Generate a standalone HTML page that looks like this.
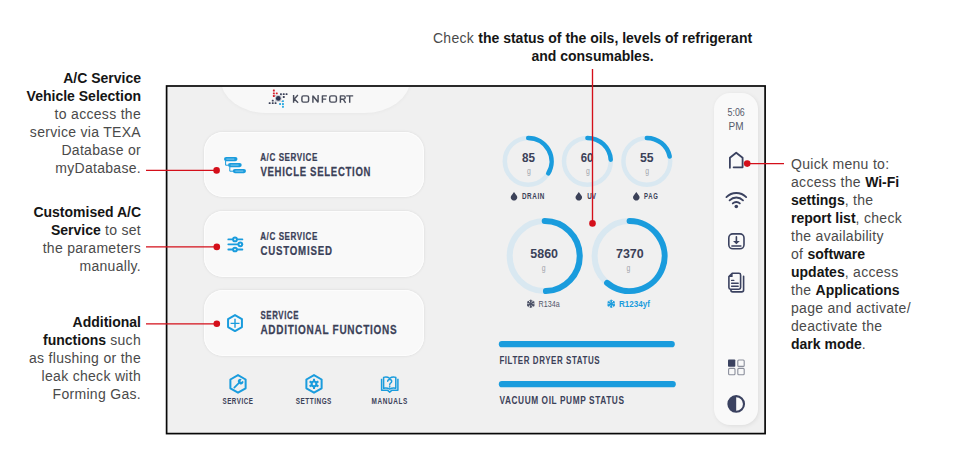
<!DOCTYPE html>
<html><head><meta charset="utf-8">
<style>
*{box-sizing:border-box;margin:0;padding:0}
html,body{width:955px;height:462px;overflow:hidden;background:#fff}
body{position:relative;font-family:"Liberation Sans",sans-serif}
.abs{position:absolute}
.ann{position:absolute;font-size:14px;line-height:18px;white-space:nowrap;color:#4a4a4a;letter-spacing:0.3px}
.ann b{color:#151515;letter-spacing:0;font-weight:bold}
.r{text-align:right}
.red{position:absolute;background:#d5101a}
.dot{position:absolute;width:7px;height:7px;border-radius:50%;background:#d5101a}
#frame{position:absolute;left:166px;top:85px;width:600px;height:349px;background:#f0f0f0}
.cond{display:inline-block;transform-origin:0 50%;white-space:nowrap}
.card{position:absolute;left:204px;width:220px;height:65px;border-radius:19px;background:#f9f9f9;box-shadow:0 0 3px rgba(0,0,0,0.10),inset 0 0 0 1px #fdfdfd}
.ui{font-family:"Liberation Sans",sans-serif;font-weight:bold;color:#3b4158;white-space:nowrap;position:absolute}
</style></head><body>

<!-- Left annotations -->
<div class="ann r" style="right:814px;top:69px">
<b>A/C Service</b><br><b>Vehicle Selection</b><br>to access the<br>service via TEXA<br>Database or<br>myDatabase.
</div>
<div class="ann r" style="right:814px;top:203px">
<b>Customised A/C</b><br><b>Service</b> to set<br>the parameters<br>manually.
</div>
<div class="ann r" style="right:814px;top:313px">
<b>Additional</b><br><b>functions</b> such<br>as flushing or the<br>leak check with<br>Forming Gas.
</div>
<!-- Top annotation -->
<div class="ann" style="left:432px;top:29px;width:321px;text-align:center">
Check <b>the status of the oils, levels of refrigerant</b><br><b>and consumables.</b>
</div>
<!-- Right annotation -->
<div class="ann" style="left:791px;top:155px">
Quick menu to:<br>access the <b>Wi-Fi</b><br><b>settings</b>, the<br><b>report list</b>, check<br>the availability<br>of <b>software</b><br><b>updates</b>, access<br>the <b>Applications</b><br>page and activate/<br>deactivate the<br><b>dark mode</b>.
</div>

<div id="frame"></div>

<!-- top tab -->
<div class="abs" style="left:221.3px;top:79px;width:188.8px;height:34.2px;border-radius:0 0 45.7px 45.7px / 0 0 33.2px 33.2px;background:#f8f8f8;box-shadow:0 0 4px rgba(0,0,0,0.05);clip-path:inset(8px -6px -6px -6px)"></div>

<!-- cards -->
<div class="card" style="top:132px"></div>
<div class="card" style="top:211px;height:66px"></div>
<div class="card" style="top:290px;height:65.5px"></div>

<!-- sidebar -->
<div class="abs" style="left:714px;top:93px;width:44px;height:332px;border-radius:16px;background:#f9f9f9;box-shadow:1px 1px 4px rgba(0,0,0,0.08)"></div>

<svg class="abs" style="left:0;top:0" width="955" height="462" viewBox="0 0 955 462" font-family="Liberation Sans, sans-serif">
<g fill="#3b4158" font-weight="bold" stroke="#3b4158" stroke-width="0.25">
<text transform="translate(260.2 161.3) scale(0.697 1)" font-size="11.6" textLength="82.10" lengthAdjust="spacing">A/C SERVICE</text>
<text transform="translate(260.4 175.5) scale(0.710 1)" font-size="13.5" textLength="155.02" lengthAdjust="spacing">VEHICLE SELECTION</text>
<text transform="translate(260.2 240.4) scale(0.697 1)" font-size="11.6" textLength="82.10" lengthAdjust="spacing">A/C SERVICE</text>
<text transform="translate(260.4 255) scale(0.718 1)" font-size="13.5" textLength="99.74" lengthAdjust="spacing">CUSTOMISED</text>
<text transform="translate(260.4 318.9) scale(0.678 1)" font-size="11.6" textLength="56.34" lengthAdjust="spacing">SERVICE</text>
<text transform="translate(260.4 333.5) scale(0.741 1)" font-size="13.5" textLength="183.89" lengthAdjust="spacing">ADDITIONAL FUNCTIONS</text>
</g>

<!-- gauges -->
<circle cx="528.2" cy="161.3" r="23.4" fill="none" stroke="#d9e8f1" stroke-width="4.5"/>
<path d="M528.20 137.90A23.4 23.4 0 0 1 548.25 173.36" fill="none" stroke="#1a9cdd" stroke-width="4.5" stroke-linecap="round"/>
<circle cx="587.4" cy="161.3" r="23.4" fill="none" stroke="#d9e8f1" stroke-width="4.5"/>
<path d="M587.40 137.90A23.4 23.4 0 0 1 610.74 159.67" fill="none" stroke="#1a9cdd" stroke-width="4.5" stroke-linecap="round"/>
<circle cx="646.8" cy="161.3" r="23.4" fill="none" stroke="#d9e8f1" stroke-width="4.5"/>
<path d="M646.80 137.90A23.4 23.4 0 0 1 669.69 156.44" fill="none" stroke="#1a9cdd" stroke-width="4.5" stroke-linecap="round"/>
<circle cx="544.7" cy="256.1" r="35" fill="none" stroke="#d9e8f1" stroke-width="6"/>
<path d="M544.70 221.10A35 35 0 0 1 545.92 291.08" fill="none" stroke="#1a9cdd" stroke-width="6" stroke-linecap="round"/>
<circle cx="629.6" cy="256.1" r="35" fill="none" stroke="#d9e8f1" stroke-width="6"/>
<path d="M629.60 221.10A35 35 0 1 1 607.10 282.91" fill="none" stroke="#1a9cdd" stroke-width="6" stroke-linecap="round"/>
<g fill="#3b4158" font-weight="bold">
<text x="522" y="161.7" font-size="13" textLength="13" lengthAdjust="spacingAndGlyphs">85</text>
<text x="580.8" y="161.7" font-size="13" textLength="12.6" lengthAdjust="spacingAndGlyphs">60</text>
<text x="640" y="161.7" font-size="13" textLength="13.6" lengthAdjust="spacingAndGlyphs">55</text>
<text x="530.3" y="258" font-size="13.5" textLength="27.7" lengthAdjust="spacingAndGlyphs">5860</text>
<text x="616" y="258" font-size="13.5" textLength="27.7" lengthAdjust="spacingAndGlyphs">7370</text>
<text transform="translate(522 198.9) scale(0.764 1)" font-size="8.3" textLength="29.20" lengthAdjust="spacing">DRAIN</text>
<text x="587.2" y="198.9" font-size="8.3" textLength="8.8" lengthAdjust="spacingAndGlyphs">UV</text>
<text transform="translate(644 198.9) scale(0.715 1)" font-size="8.3" textLength="19.31" lengthAdjust="spacing">PAG</text>
<text transform="translate(499.4 363.5) scale(0.688 1)" font-size="11.6" textLength="145.52" lengthAdjust="spacing">FILTER DRYER STATUS</text>
<text transform="translate(499.4 403.7) scale(0.715 1)" font-size="11.6" textLength="174.17" lengthAdjust="spacing">VACUUM OIL PUMP STATUS</text>
<text transform="translate(222.5 404) scale(0.673 1)" font-size="9.3" textLength="45.17" lengthAdjust="spacing">SERVICE</text>
<text transform="translate(295.8 404) scale(0.689 1)" font-size="9.3" textLength="51.67" lengthAdjust="spacing">SETTINGS</text>
<text transform="translate(371.6 404) scale(0.689 1)" font-size="9.3" textLength="51.65" lengthAdjust="spacing">MANUALS</text>
</g>
<g fill="#a0a3ab">
<text x="526.9" y="173.5" font-size="9.5" textLength="3.8" lengthAdjust="spacingAndGlyphs">g</text>
<text x="585.9" y="173.5" font-size="9.5" textLength="3.8" lengthAdjust="spacingAndGlyphs">g</text>
<text x="645.3" y="173.5" font-size="9.5" textLength="3.8" lengthAdjust="spacingAndGlyphs">g</text>
<text x="541.7" y="271" font-size="9.5" textLength="3.8" lengthAdjust="spacingAndGlyphs">g</text>
<text x="626.6" y="271" font-size="9.5" textLength="3.8" lengthAdjust="spacingAndGlyphs">g</text>
</g>
<text x="538.6" y="307.2" font-size="9.6" fill="#50566a" textLength="21" lengthAdjust="spacingAndGlyphs">R134a</text>
<text x="619" y="307.2" font-size="9.5" fill="#1a9cdd" font-weight="bold" textLength="31" lengthAdjust="spacingAndGlyphs">R1234yf</text>
<!-- bars -->
<rect x="498.8" y="341" width="176" height="6.3" rx="3.1" fill="#1a9cdd"/>
<rect x="498.8" y="381" width="177" height="6.3" rx="3.1" fill="#1a9cdd"/>
<!-- time -->
<g fill="#555b6b">
<text x="727.5" y="116.4" font-size="10.5" textLength="17.3" lengthAdjust="spacingAndGlyphs">5:06</text>
<text x="728.6" y="129.7" font-size="10.5" textLength="15" lengthAdjust="spacingAndGlyphs">PM</text>
</g>
<!-- konfort -->
<g fill="none" stroke="#4a4e5c" stroke-width="1.45" stroke-linejoin="round">
<path d="M293.6 95.1V102.8M297.9 95.1L294.3 98.95L298.1 102.8M294 98.95H295"/>
<rect x="301.9" y="95.85" width="6.7" height="6.25" rx="1.6"/>
<path d="M312.9 102.8V96.2Q312.9 95.85 313.3 96.2L317.7 101.8Q318.1 102.1 318.1 101.7V95.1"/>
<path d="M322.4 102.8V95.85H326.9M322.4 99.1H326.2"/>
<rect x="329.7" y="95.85" width="6.7" height="6.25" rx="1.6"/>
<path d="M340.4 102.8V95.85H343.6Q345.2 95.85 345.2 97.5Q345.2 99.15 343.6 99.15H340.4M343.2 99.15L345.6 102.8"/>
<path d="M346.2 95.85H353.2M349.7 95.85V102.8"/>
</g>

<!-- logo -->
<g>
<rect x="272.9" y="89.6" width="1.9" height="1.9" rx="0.5" fill="#d61f2b"/>
<rect x="272.9" y="92.4" width="1.9" height="1.9" rx="0.5" fill="#d61f2b"/>
<rect x="275.8" y="92.4" width="1.9" height="1.9" rx="0.5" fill="#d61f2b"/>
<rect x="272.9" y="95.1" width="1.9" height="1.9" rx="0.5" fill="#d61f2b"/>
<rect x="280.0" y="93.2" width="1.9" height="1.9" rx="0.5" fill="#3b4158"/>
<rect x="282.8" y="93.2" width="1.9" height="1.9" rx="0.5" fill="#3b4158"/>
<rect x="285.6" y="93.2" width="1.9" height="1.9" rx="0.5" fill="#3b4158"/>
<rect x="282.8" y="96.0" width="1.9" height="1.9" rx="0.5" fill="#3b4158"/>
<rect x="271.8" y="99.7" width="1.9" height="1.9" rx="0.5" fill="#3b4158"/>
<rect x="268.7" y="102.2" width="1.9" height="1.9" rx="0.5" fill="#3b4158"/>
<rect x="271.8" y="102.2" width="1.9" height="1.9" rx="0.5" fill="#3b4158"/>
<rect x="274.6" y="102.2" width="1.9" height="1.9" rx="0.5" fill="#3b4158"/>
<rect x="282.0" y="100.2" width="1.9" height="1.9" rx="0.5" fill="#29a8e0"/>
<rect x="279.1" y="103.0" width="1.9" height="1.9" rx="0.5" fill="#29a8e0"/>
<rect x="282.0" y="103.0" width="1.9" height="1.9" rx="0.5" fill="#29a8e0"/>
<rect x="282.0" y="105.8" width="1.9" height="1.9" rx="0.5" fill="#29a8e0"/>
<path d="M274.5 94.6L282 102.2M282 94.6L274.5 102.2" stroke="#9da1ad" stroke-width="0.7"/>
<circle cx="278.3" cy="98.4" r="3.4" fill="#c9ccd4"/>
<circle cx="278.3" cy="98.4" r="2.4" fill="#2e3550"/>
</g>
<!-- card1 icon -->
<g fill="none" stroke="#1a9cdd" stroke-width="1">
<path d="M225.6 161V165.2H228.5M229.8 167V171.2H233"/>
</g>
<g fill="#1a9cdd">
<rect x="224" y="157" width="13.5" height="4.2" rx="2.1"/>
<rect x="228" y="163" width="13.7" height="4.2" rx="2.1"/>
<rect x="232.8" y="169" width="13.2" height="4.2" rx="2.1"/>
</g>
<g fill="#e9f6fc" opacity="0.5">
<rect x="226.3" y="158.6" width="8" height="1" />
<rect x="230.6" y="164.6" width="8" height="1" />
<rect x="235.3" y="170.6" width="8" height="1" />
</g>
<!-- card2 sliders -->
<g stroke="#1a9cdd" stroke-width="1.8" stroke-linecap="round" fill="none">
<path d="M228.3 239.4H242.4M228.3 244.3H242.4M228.3 249.5H242.4"/>
</g>
<g stroke="#1a9cdd" stroke-width="2" fill="#fafafa">
<circle cx="235" cy="239.4" r="1.85"/>
<circle cx="240.3" cy="244.3" r="1.85"/>
<circle cx="235" cy="249.5" r="1.85"/>
</g>
<!-- card3 hex plus -->
<path d="M235.00 315.10 L241.93 319.10 L241.93 327.10 L235.00 331.10 L228.07 327.10 L228.07 319.10Z" fill="none" stroke="#1a9cdd" stroke-width="2" stroke-linejoin="round"/>
<path d="M230.6 323.4H239.5M235 318.8V327.8" stroke="#1a9cdd" stroke-width="1.4"/>
<!-- bottom icons -->
<path d="M238.00 375.10 L245.62 379.50 L245.62 388.30 L238.00 392.70 L230.38 388.30 L230.38 379.50Z" fill="none" stroke="#1a9cdd" stroke-width="2" stroke-linejoin="round"/>
<path d="M234.3 387.6L239 382.9" stroke="#1a9cdd" stroke-width="1.7" stroke-linecap="round"/>
<path d="M238.2 382.6A2.4 2.4 0 0 1 241.6 379.3L240.3 381.2L241.2 382.1L243 380.7A2.4 2.4 0 0 1 239.6 384Z" fill="#1a9cdd"/>
<path d="M314.00 375.10 L321.62 379.50 L321.62 388.30 L314.00 392.70 L306.38 388.30 L306.38 379.50Z" fill="none" stroke="#1a9cdd" stroke-width="2" stroke-linejoin="round"/>
<g fill="#1a9cdd">
<circle cx="314" cy="383.9" r="3.4"/>
<rect x="313" y="378.8" width="2" height="10.2"/>
<rect x="313" y="378.8" width="2" height="10.2" transform="rotate(60 314 383.9)"/>
<rect x="313" y="378.8" width="2" height="10.2" transform="rotate(120 314 383.9)"/>
</g>
<circle cx="314" cy="383.9" r="1.3" fill="#f0f0f0"/>
<g fill="none" stroke="#1a9cdd" stroke-width="1.5" stroke-linejoin="round">
<path d="M381.6 378.8V390.2H387.4L389.7 392.1L392 390.2H397.9V378.8"/>
<path d="M383.6 377.4Q386.8 376.2 389.7 378.3Q392.6 376.2 395.8 377.4V388.3Q392.6 387.3 389.7 389.1Q386.8 387.3 383.6 388.3Z"/>
</g>
<path d="M387.7 381.3Q387.7 379.4 389.7 379.4Q391.7 379.4 391.7 381.2Q391.7 382.5 390.5 383.1Q389.7 383.5 389.7 384.9" fill="none" stroke="#1a9cdd" stroke-width="1.45" stroke-linecap="round"/>
<circle cx="389.7" cy="386.8" r="0.85" fill="#1a9cdd"/>
<!-- drops -->
<path d="M514.0 191.9L516.56 195.46A3.15 3.15 0 1 1 511.44 195.46Z" fill="#3b4158"/>
<path d="M578.8 191.9L581.36 195.46A3.15 3.15 0 1 1 576.24 195.46Z" fill="#3b4158"/>
<path d="M636.3 191.9L638.86 195.46A3.15 3.15 0 1 1 633.74 195.46Z" fill="#3b4158"/>
<path d="M530.80 300.20L530.80 307.40" stroke="#4a5065" stroke-width="1.3" stroke-linecap="round"/>
<path d="M527.68 302.00L533.92 305.60" stroke="#4a5065" stroke-width="1.3" stroke-linecap="round"/>
<path d="M527.68 305.60L533.92 302.00" stroke="#4a5065" stroke-width="1.3" stroke-linecap="round"/>
<path d="M530.80 301.57L529.78 300.55" stroke="#4a5065" stroke-width="1" stroke-linecap="round"/>
<path d="M530.80 301.57L531.82 300.55" stroke="#4a5065" stroke-width="1" stroke-linecap="round"/>
<path d="M532.73 302.68L533.11 301.29" stroke="#4a5065" stroke-width="1" stroke-linecap="round"/>
<path d="M532.73 302.68L534.12 303.06" stroke="#4a5065" stroke-width="1" stroke-linecap="round"/>
<path d="M532.73 304.92L534.12 304.54" stroke="#4a5065" stroke-width="1" stroke-linecap="round"/>
<path d="M532.73 304.92L533.11 306.31" stroke="#4a5065" stroke-width="1" stroke-linecap="round"/>
<path d="M530.80 306.03L531.82 307.05" stroke="#4a5065" stroke-width="1" stroke-linecap="round"/>
<path d="M530.80 306.03L529.78 307.05" stroke="#4a5065" stroke-width="1" stroke-linecap="round"/>
<path d="M528.87 304.92L528.49 306.31" stroke="#4a5065" stroke-width="1" stroke-linecap="round"/>
<path d="M528.87 304.92L527.48 304.54" stroke="#4a5065" stroke-width="1" stroke-linecap="round"/>
<path d="M528.87 302.68L527.48 303.06" stroke="#4a5065" stroke-width="1" stroke-linecap="round"/>
<path d="M528.87 302.68L528.49 301.29" stroke="#4a5065" stroke-width="1" stroke-linecap="round"/>
<path d="M611.20 300.20L611.20 307.40" stroke="#1a9cdd" stroke-width="1.3" stroke-linecap="round"/>
<path d="M608.08 302.00L614.32 305.60" stroke="#1a9cdd" stroke-width="1.3" stroke-linecap="round"/>
<path d="M608.08 305.60L614.32 302.00" stroke="#1a9cdd" stroke-width="1.3" stroke-linecap="round"/>
<path d="M611.20 301.57L610.18 300.55" stroke="#1a9cdd" stroke-width="1" stroke-linecap="round"/>
<path d="M611.20 301.57L612.22 300.55" stroke="#1a9cdd" stroke-width="1" stroke-linecap="round"/>
<path d="M613.13 302.68L613.51 301.29" stroke="#1a9cdd" stroke-width="1" stroke-linecap="round"/>
<path d="M613.13 302.68L614.52 303.06" stroke="#1a9cdd" stroke-width="1" stroke-linecap="round"/>
<path d="M613.13 304.92L614.52 304.54" stroke="#1a9cdd" stroke-width="1" stroke-linecap="round"/>
<path d="M613.13 304.92L613.51 306.31" stroke="#1a9cdd" stroke-width="1" stroke-linecap="round"/>
<path d="M611.20 306.03L612.22 307.05" stroke="#1a9cdd" stroke-width="1" stroke-linecap="round"/>
<path d="M611.20 306.03L610.18 307.05" stroke="#1a9cdd" stroke-width="1" stroke-linecap="round"/>
<path d="M609.27 304.92L608.89 306.31" stroke="#1a9cdd" stroke-width="1" stroke-linecap="round"/>
<path d="M609.27 304.92L607.88 304.54" stroke="#1a9cdd" stroke-width="1" stroke-linecap="round"/>
<path d="M609.27 302.68L607.88 303.06" stroke="#1a9cdd" stroke-width="1" stroke-linecap="round"/>
<path d="M609.27 302.68L608.89 301.29" stroke="#1a9cdd" stroke-width="1" stroke-linecap="round"/>
<!-- sidebar icons -->
<g fill="none" stroke="#3b4260" stroke-width="1.8" stroke-linecap="round" stroke-linejoin="round">
<path d="M729.9 167.8V157.8L736.2 152.7L742.6 157.8V167.3H733.6"/>
<path d="M726.40 197.10A14 14 0 0 1 746.20 197.10"/>
<path d="M729.58 200.28A9.5 9.5 0 0 1 743.02 200.28"/>
<path d="M732.76 203.46A5 5 0 0 1 739.84 203.46"/>
<rect x="728.8" y="233.9" width="15.2" height="14.9" rx="4" stroke-width="1.6"/>
<path d="M736.4 236.8V242.6" stroke-width="1.6"/>
<path d="M731.9 246.1H740.9" stroke-width="1.5"/>
<path d="M728.9 276.6L732.2 273.3H739Q740.6 273.3 740.6 274.9V287.6Q740.6 289.2 739 289.2H730.5Q728.9 289.2 728.9 287.6Z" stroke-width="1.6"/>
<path d="M743.6 276.3V290Q743.6 291.9 741.7 291.9H732.7Q730.9 291.9 730.9 290.1" stroke-width="1.6"/>
<path d="M731.6 280.4H733.8M731.6 283.3H738.2M731.6 286.2H738.2" stroke-width="1.4"/>
<circle cx="736.2" cy="403.9" r="7.8" stroke-width="2.1"/>
<rect x="735.6" y="363.6" width="6.3" height="0" stroke="none"/>
</g>
<path d="M733 240.9L736.4 244.3L739.8 240.9Z" fill="#3b4260"/>
<path d="M728.9 277L732.6 273.3V277Z" fill="#3b4260"/>
<circle cx="736.3" cy="206.5" r="1.8" fill="#3b4260"/>
<path d="M736.2 396.1A7.8 7.8 0 0 0 736.2 411.7Z" fill="#3b4260"/>
<rect x="728" y="359.4" width="7.3" height="7.3" rx="0.8" fill="#3b4260"/>
<g fill="none" stroke="#8b8f9c" stroke-width="1.1">
<rect x="737.8" y="360" width="6.4" height="6.4" rx="1"/>
<rect x="728.6" y="368.4" width="6.4" height="6.4" rx="1"/>
<rect x="737.8" y="368.4" width="6.4" height="6.4" rx="1"/>
</g>
<rect x="166.6" y="86" width="598.5" height="347.6" fill="none" stroke="#080808" stroke-width="1.7"/>
</svg>

<!-- red connectors -->
<svg class="abs" style="left:0;top:0" width="955" height="462" viewBox="0 0 955 462">
<g stroke="#d40f1a" stroke-width="1.35" fill="none">
<path d="M146 170.4H216.6M146 246.9H216.8M146 323.8H216.8M592.5 69.1V223.4M747.2 163.6H784"/>
</g>
<g fill="#d40f1a">
<circle cx="216.6" cy="170.4" r="3.3"/>
<circle cx="216.8" cy="246.9" r="3.3"/>
<circle cx="216.8" cy="323.8" r="3.3"/>
<circle cx="592.5" cy="223.4" r="3.3"/>
<circle cx="747.2" cy="163.6" r="3.3"/>
</g>
</svg>

</body></html>
